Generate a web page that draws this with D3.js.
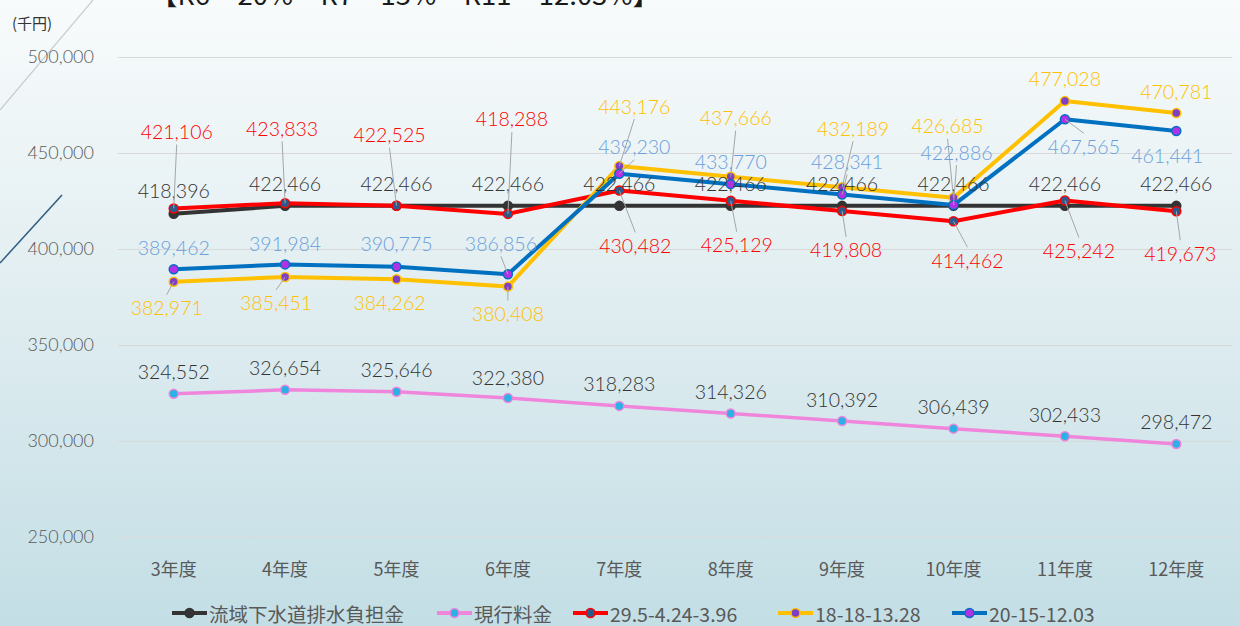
<!DOCTYPE html>
<html>
<head>
<meta charset="utf-8">
<script src="https://cdn.jsdelivr.net/npm/d3@7"></script>
<style>
  body { margin: 0; padding: 0; overflow: hidden; }
  svg { display: block; }
</style>
</head>
<body>
<div id="chart"></div>
<script>
// DATA (千円)
var categories = ["3年度", "4年度", "5年度", "6年度", "7年度", "8年度", "9年度", "10年度", "11年度", "12年度"];
var seriesNames = ["流域下水道排水負担金", "現行料金", "29.5-4.24-3.96", "18-18-13.28", "20-15-12.03"];
var burden = [418396, 422466, 422466, 422466, 422466, 422466, 422466, 422466, 422466, 422466];
var currentFee = [324552, 326654, 325646, 322380, 318283, 314326, 310392, 306439, 302433, 298472];
var plan1 = [421106, 423833, 422525, 418288, 430482, 425129, 419808, 414462, 425242, 419673];
var plan2 = [382971, 385451, 384262, 380408, 443176, 437666, 432189, 426685, 477028, 470781];
var plan3 = [389462, 391984, 390775, 386856, 439230, 433770, 428341, 422886, 467565, 461441];
var yTicks = [250000, 300000, 350000, 400000, 450000, 500000];
var titleText = "【R6～20%・R7～15%・R11～12.03%】";
var unitText = "(千円)";

// LABEL PLACEMENT (dx, dy from the point, in px)
var offBurden = [[0,-23],[0,-22],[0,-22],[0,-22],[0,-22],[0,-22],[0,-22],[0,-22],[0,-22],[0,-22]];
var offCurrent = [[0,-22],[0,-22],[0,-22],[0,-21],[0,-22],[0,-22],[0,-22],[0,-22],[0,-22],[0,-22]];
var offPlan1 = [[3,-77],[-3,-75],[-7,-71],[4,-95],[16,55],[6,44],[4,39],[14,39],[14,50],[4,42]];
var offPlan2 = [[-7,26],[-9,26],[-7,23],[0,27],[15,-60],[5,-59],[11,-59],[-6,-72],[0,-23],[0,-22]];
var offPlan3 = [[0,-22],[0,-21],[0,-23],[-7,-31],[15,-27],[0,-23],[5,-33],[3,-53],[19,27],[-9,24]];

var W = 1240, H = 626;
var plot = {left: 118, right: 1232, top: 57, bottom: 537};

var svg = d3.select("#chart").append("svg")
    .attr("width", W)
    .attr("height", H);

// BACKGROUND GRADIENT
var defs = svg.append("defs");
var grad = defs.append("linearGradient")
    .attr("id", "bg")
    .attr("x1", 0).attr("y1", 0).attr("x2", 0).attr("y2", 1);
grad.append("stop").attr("offset", "0%").attr("stop-color", "#f8fbfc");
grad.append("stop").attr("offset", "45%").attr("stop-color", "#e2eef1");
grad.append("stop").attr("offset", "100%").attr("stop-color", "#c3dee5");
svg.append("rect").attr("width", W).attr("height", H).attr("fill", "url(#bg)");

// DECORATIVE DIAGONALS ON THE LEFT
svg.append("line").attr("x1", 93).attr("y1", 0).attr("x2", 0).attr("y2", 110)
    .attr("stroke", "#c8cdd0").attr("stroke-width", 1.2);
svg.append("line").attr("x1", 62).attr("y1", 195).attr("x2", 0).attr("y2", 263)
    .attr("stroke", "#2d5b80").attr("stroke-width", 1.5);

// TITLE (CUT OFF AT THE TOP, AS IN THE SOURCE)
svg.append("text")
    .attr("x", 150).attr("y", 5)
    .attr("font-family", "'Noto Sans CJK JP', 'Noto Sans', sans-serif")
    .attr("font-size", "26px")
    .attr("fill", "#1a1a1a")
    .attr("textLength", 510)
    .attr("lengthAdjust", "spacingAndGlyphs")
    .text(titleText);

svg.append("text")
    .attr("x", 12).attr("y", 22)
    .attr("dominant-baseline", "central")
    .attr("font-family", "'Noto Sans CJK JP', sans-serif")
    .attr("font-size", "15px")
    .attr("fill", "#333")
    .text(unitText);

// SCALES
var x = d3.scaleBand().domain(categories).range([plot.left, plot.right]).padding(0);
var cx = function(c) { return x(c) + x.bandwidth() / 2; };
var y = d3.scaleLinear().domain([250000, 500000]).range([plot.bottom, plot.top]);

// GRID
svg.append("g")
    .attr("transform", "translate(" + plot.left + ",0)")
    .call(d3.axisLeft(y).tickValues(yTicks).tickSize(-(plot.right - plot.left)).tickFormat(""))
    .call(function(g) { g.select(".domain").remove(); })
    .selectAll("line").attr("stroke", "#d9d9d9").attr("stroke-width", 1);

// Y AXIS LABELS
var yAxis = svg.append("g")
    .attr("transform", "translate(94,0)")
    .call(d3.axisLeft(y).tickValues(yTicks).tickSize(0).tickPadding(0).tickFormat(d3.format(",")));
yAxis.select(".domain").remove();
yAxis.selectAll("text")
    .attr("font-family", "Lato, 'Open Sans', sans-serif")
    .attr("font-weight", 300)
    .attr("font-size", "18px")
    .attr("fill", "#595959");

// X AXIS LABELS
var xAxis = svg.append("g")
    .attr("transform", "translate(0,560)")
    .call(d3.axisBottom(x).tickSize(0).tickPadding(0));
xAxis.select(".domain").remove();
xAxis.selectAll("text")
    .attr("dy", "0.35em")
    .attr("y", 10)
    .attr("font-family", "'Noto Sans CJK JP', sans-serif")
    .attr("font-size", "18px")
    .attr("fill", "#595959");

// SERIES
var series = [
    {name: seriesNames[0], values: burden, offsets: offBurden, line: "#333333", lw: 4, fill: "#333333", stroke: "#333333", label: "#333333"},
    {name: seriesNames[1], values: currentFee, offsets: offCurrent, line: "#f085dc", lw: 3.5, fill: "#2cb1e6", stroke: "#f085dc", label: "#333333"},
    {name: seriesNames[2], values: plan1, offsets: offPlan1, line: "#ff0000", lw: 4, fill: "#2b5a8c", stroke: "#ff0000", label: "#ff0000"},
    {name: seriesNames[3], values: plan2, offsets: offPlan2, line: "#ffc000", lw: 4, fill: "#7f3fc4", stroke: "#ffc000", label: "#ffc000"},
    {name: seriesNames[4], values: plan3, offsets: offPlan3, line: "#0070c0", lw: 4, fill: "#b132e6", stroke: "#0070c0", label: "#6a9fdc"}
];

var line = d3.line()
    .x(function(d, i) { return cx(categories[i]); })
    .y(function(d) { return y(d); });

var linesG = svg.append("g");
series.forEach(function(s) {
    linesG.append("path")
        .datum(s.values)
        .attr("d", line)
        .attr("fill", "none")
        .attr("stroke", s.line)
        .attr("stroke-width", s.lw)
        .attr("stroke-linejoin", "round");
    linesG.selectAll(null)
        .data(s.values)
        .enter()
        .append("circle")
        .attr("cx", function(d, i) { return cx(categories[i]); })
        .attr("cy", function(d) { return y(d); })
        .attr("r", 4.5)
        .attr("fill", s.fill)
        .attr("stroke", s.stroke)
        .attr("stroke-width", 1.5);
});

// DATA LABELS WITH LEADER LINES
var labelsG = svg.append("g");
series.forEach(function(s) {
    s.values.forEach(function(v, i) {
        var px = cx(categories[i]), py = y(v);
        var o = s.offsets[i];
        var lx = px + o[0], ly = py + o[1];
        if (Math.sqrt(o[0] * o[0] + o[1] * o[1]) >= 26) {
            labelsG.append("line")
                .attr("x1", px).attr("y1", py)
                .attr("x2", lx).attr("y2", ly + (o[1] < 0 ? 13 : -13))
                .attr("stroke", "#a6a6a6")
                .attr("stroke-width", 1);
        }
        labelsG.append("text")
            .attr("x", lx).attr("y", ly)
            .attr("text-anchor", "middle")
            .attr("dominant-baseline", "central")
            .attr("font-family", "Lato, 'Open Sans', sans-serif")
            .attr("font-weight", 300)
            .attr("font-size", "19.5px")
            .attr("fill", s.label)
            .text(d3.format(",")(v));
    });
});

// LEGEND
var legendX = [172, 437, 573, 778, 952];
var legend = svg.append("g").attr("transform", "translate(0,613)");
series.forEach(function(s, i) {
    var g = legend.append("g").attr("transform", "translate(" + legendX[i] + ",0)");
    g.append("line").attr("x1", 0).attr("x2", 35).attr("y1", 0).attr("y2", 0)
        .attr("stroke", s.line).attr("stroke-width", 4);
    g.append("circle").attr("cx", 17.5).attr("cy", 0).attr("r", 4.5)
        .attr("fill", s.fill).attr("stroke", s.stroke).attr("stroke-width", 1.5);
    g.append("text")
        .attr("x", 37).attr("y", 0)
        .attr("dominant-baseline", "central")
        .attr("font-family", "'Noto Sans CJK JP', sans-serif")
        .attr("font-size", "19.5px")
        .attr("fill", "#595959")
        .text(s.name);
});
</script>
</body>
</html>
